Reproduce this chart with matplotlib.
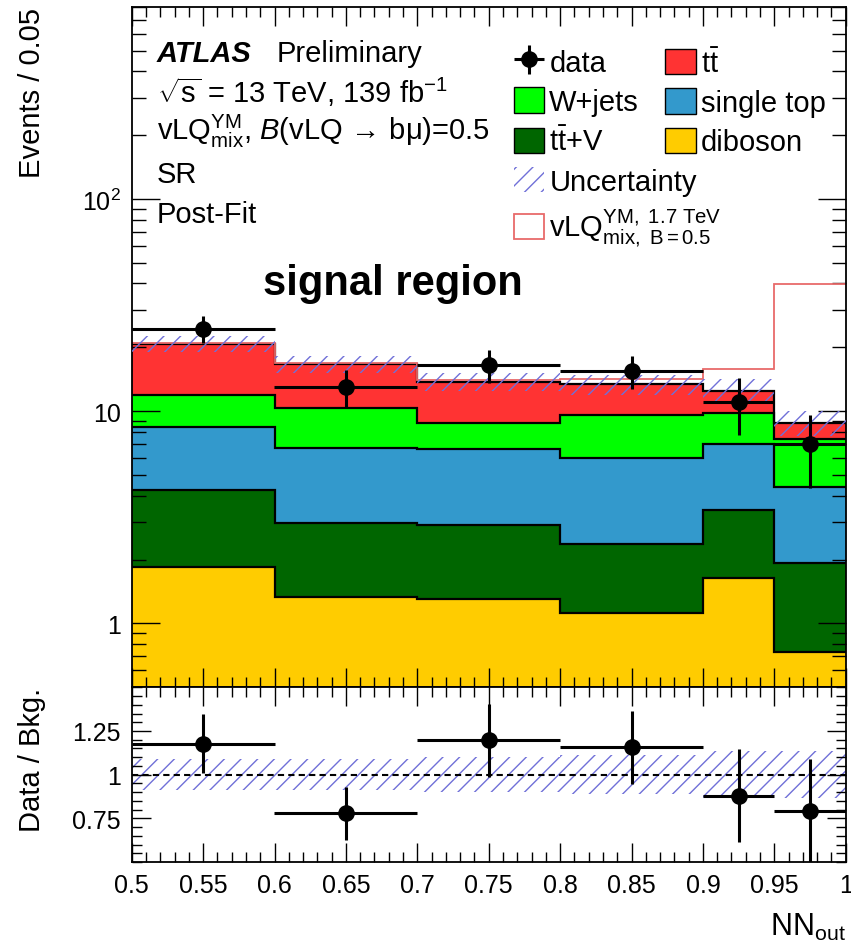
import numpy as np
import matplotlib
matplotlib.use("Agg")
import matplotlib.pyplot as plt
from matplotlib.patches import Patch
from matplotlib.ticker import FixedLocator, MultipleLocator, LogLocator, NullFormatter, FuncFormatter

plt.rcParams['font.family'] = ['Liberation Sans', 'DejaVu Sans']
plt.rcParams['mathtext.fontset'] = 'custom'
plt.rcParams['mathtext.rm'] = 'Liberation Sans'
plt.rcParams['mathtext.it'] = 'Liberation Sans:italic'
plt.rcParams['mathtext.bf'] = 'Liberation Sans:bold'
plt.rcParams['hatch.linewidth'] = 1.0

# NN output binning
edges = np.array([0.5, 0.6, 0.7, 0.8, 0.9, 0.95, 1.0])

# post-fit yields (events / 0.05)
diboson = np.array([1.84, 1.33, 1.31, 1.12, 1.64, 0.73])
ttV = np.array([2.41, 1.63, 1.60, 1.24, 1.78, 1.20])
single_top = np.array([4.16, 3.73, 3.71, 3.68, 3.57, 2.45])
wjets = np.array([3.49, 3.61, 2.22, 3.56, 2.80, 3.00])
ttbar = np.array([8.90, 6.40, 4.96, 3.80, 2.71, 1.46])
signal = np.array([0.10, 0.15, 0.30, 0.80, 3.30, 30.7])
data = np.array([24.5, 13.0, 16.5, 15.5, 11.0, 7.0])
rel_unc = np.array([0.09, 0.09, 0.10, 0.11, 0.135, 0.135])

centers = 0.5 * (edges[1:] + edges[:-1])
widths = edges[1:] - edges[:-1]
# poisson errors, scaled to events / 0.05
counts = data * widths / 0.05
data_err = np.sqrt(counts) * 0.05 / widths

hatch_col = '#7070d8'
sig_col = '#e86a6a'
fs = 21

W, H = 851, 953
fig = plt.figure(figsize=(W / 100, H / 100), dpi=100)
ax = fig.add_axes([131.7 / W, 1 - 688.3 / H, 714 / W, 680 / H])
rax = fig.add_axes([131.7 / W, 1 - 863 / H, 714 / W, 174.7 / H], sharex=ax)

# stacked backgrounds
layers = [
    (diboson, '#ffcc00', 'diboson'),
    (ttV, '#006600', r't$\bar{\rm t}$+V'),
    (single_top, '#3399cc', 'single top'),
    (wjets, '#00ff00', 'W+jets'),
    (ttbar, '#ff3333', r't$\bar{\rm t}$'),
]
cum = np.full(len(centers), 1e-3)
bkg_handles = {}
for vals, col, lab in layers:
    top = cum + vals if cum[0] > 1e-3 else vals.copy()
    ax.stairs(top, edges, baseline=cum, fill=True, color=col, lw=0, zorder=1)
    ax.stairs(top, edges, baseline=None, color='black', lw=1.6, zorder=2)
    bkg_handles[lab] = Patch(facecolor=col, edgecolor='black', lw=1)
    cum = top
total = cum

# signal on top of background
ax.stairs(total + signal, edges, baseline=None, color=sig_col, lw=1.3, zorder=2)

# uncertainty band
ax.stairs(total * (1 + rel_unc), edges, baseline=total * (1 - rel_unc), fill=True,
          facecolor='none', edgecolor=hatch_col, hatch='//', lw=0, zorder=3)

eb = ax.errorbar(centers, data, xerr=widths / 2, yerr=data_err, fmt='o', color='black',
                 ms=11, elinewidth=2.2, capsize=0, zorder=5)

ax.set_yscale('log')
ax.set_ylim(0.5, 800)
ax.set_xlim(0.5, 1.0)
ax.yaxis.set_major_locator(FixedLocator([1, 10, 100]))
ax.yaxis.set_major_formatter(FuncFormatter(lambda v, p: {1: '1', 10: '10', 100: r'10$^{2}$'}.get(int(round(v)), '')))
ax.yaxis.set_minor_locator(LogLocator(base=10, subs=np.arange(2, 10)))
ax.yaxis.set_minor_formatter(NullFormatter())
ax.set_ylabel('Events / 0.05', fontsize=fs, loc='top')
ax.yaxis.set_label_coords(-0.12, 1.0)

# ratio panel
ratio = data / total
ratio_err = data_err / total
rax.stairs(1 + rel_unc, edges, baseline=1 - rel_unc, fill=True,
           facecolor='none', edgecolor=hatch_col, hatch='//', lw=0, zorder=1)
rax.axhline(1.0, color='black', ls=(0, (3, 2)), lw=1.5, zorder=2)
rax.errorbar(centers, ratio, xerr=widths / 2, yerr=ratio_err, fmt='o', color='black',
             ms=11, elinewidth=2.2, capsize=0, zorder=5)
rax.set_ylim(0.5, 1.5)
rax.yaxis.set_major_locator(FixedLocator([0.75, 1.0, 1.25]))
rax.yaxis.set_major_formatter(FuncFormatter(lambda v, p: f'{v:g}'))
rax.yaxis.set_minor_locator(MultipleLocator(0.05))
rax.xaxis.set_major_locator(MultipleLocator(0.05))
rax.xaxis.set_minor_locator(MultipleLocator(0.01))
rax.xaxis.set_major_formatter(FuncFormatter(lambda v, p: f'{v:g}'))
rax.set_ylabel('Data / Bkg.', fontsize=fs, loc='top')
rax.yaxis.set_label_coords(-0.12, 1.0)
rax.set_xlabel(r'NN$_{\rm out}$', fontsize=fs + 1, loc='right')
rax.xaxis.set_label_coords(1.0, -0.28)

for a in (ax, rax):
    a.tick_params(which='both', direction='in', top=True, right=True, labelsize=18, pad=8)
    a.tick_params(which='major', length=14, width=1)
    a.tick_params(which='minor', length=7, width=1)
    for s in a.spines.values():
        s.set_linewidth(1.3)
ax.tick_params(labelbottom=False)
ax.tick_params(axis='y', which='major', length=20)
ax.tick_params(axis='y', which='minor', length=10)

# text block
def ftext(x, y, s, **kw):
    fig.text(x / W, 1 - y / H, s, va='baseline', fontsize=fs, **kw)

ftext(157, 62, 'ATLAS', fontweight='bold', fontstyle='italic')
ftext(277, 62, 'Preliminary')
ftext(157, 103, r'$\sqrt{\rm s}$ = 13 TeV, 139 fb$^{-1}$')
ftext(157, 140, r'vLQ$^{\rm YM}_{\rm mix}$, $B$(vLQ$\,\rightarrow\,$bμ)=0.5')
ftext(157, 183, 'SR')
ftext(157, 223, 'Post-Fit')
fig.text(263 / W, 1 - 295 / H, 'signal region', fontsize=30, fontweight='bold', va='baseline')

# legend, two columns of unequal length
lkw = dict(loc='upper left', frameon=False, fontsize=fs, handlelength=1.05, handleheight=0.95,
           handletextpad=0.17, labelspacing=0.37, borderpad=0, borderaxespad=0)
sig_h = Patch(facecolor='none', edgecolor=sig_col, lw=1.3)
unc_h = Patch(facecolor='none', edgecolor=hatch_col, hatch='//', lw=0)
leg1 = ax.legend([eb, bkg_handles['W+jets'], bkg_handles[r't$\bar{\rm t}$+V'], unc_h, sig_h],
                 ['data', 'W+jets', r't$\bar{\rm t}$+V', 'Uncertainty',
                  r'vLQ$^{\rm YM,\ 1.7\ TeV}_{\rm mix,\ B=0.5}$'],
                 bbox_to_anchor=(0.535, 0.94), **lkw)
ax.add_artist(leg1)
ax.legend([bkg_handles[r't$\bar{\rm t}$'], bkg_handles['single top'], bkg_handles['diboson']],
          [r't$\bar{\rm t}$', 'single top', 'diboson'],
          bbox_to_anchor=(0.747, 0.94), **lkw)

fig.savefig('out.png', dpi=100)
